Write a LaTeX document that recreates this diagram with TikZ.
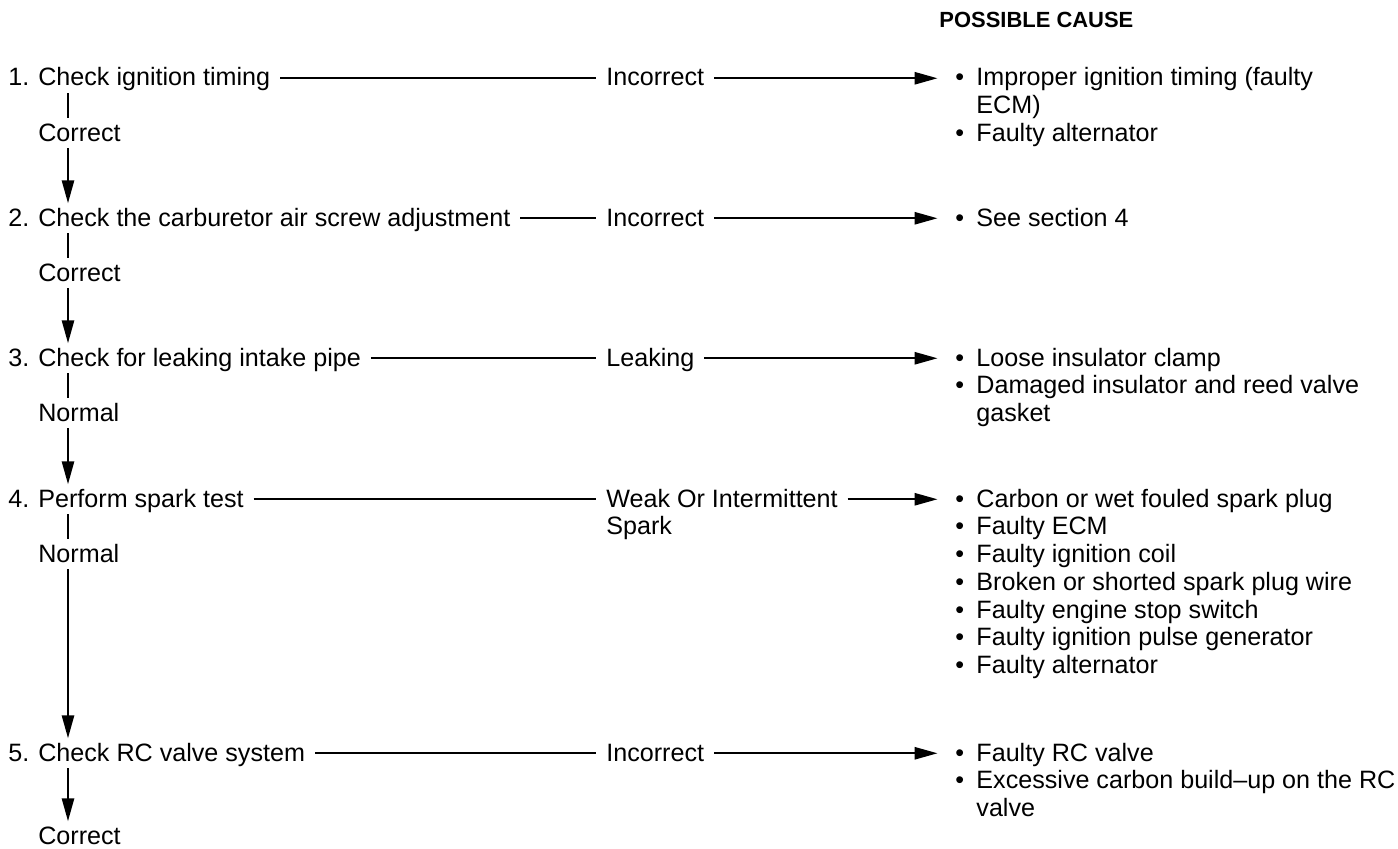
\documentclass[tikz,border=0pt]{standalone}
\usepackage{fontspec}
\setmainfont{Liberation Sans}
\usetikzlibrary{arrows.meta}
\newcommand{\bul}{\makebox[12pt][l]{\textbullet}}
\newcommand{\ind}{\hspace*{12pt}}
\newcommand{\rows}[1]{\begin{tabular}[t]{@{}l@{}}#1\end{tabular}}

\begin{document}
\begin{tikzpicture}[
    x=0.02cm,y=-0.02cm,
    txt/.style={font=\fontsize{14.3}{15.8}\selectfont,inner sep=0pt,anchor=base west,text height=10.3pt,text depth=1.5pt},
    multi/.style={font=\fontsize{14.3}{15.8}\selectfont,inner sep=0pt,anchor=base west},
    headline/.style={font=\fontsize{12.5}{14}\selectfont\bfseries,inner sep=0pt,anchor=base west},
    link/.style={line width=1pt,shorten <=5.5pt,shorten >=5.5pt},
    stemline/.style={line width=1pt,shorten <=2.5pt,shorten >=2.5pt},
    arrow/.style={-{Triangle[length=13pt,width=7pt]}},
    tocause/.style={link,arrow,shorten >=10pt},
]
\useasboundingbox (0,0) rectangle (1398,848);
\coordinate (stem) at (68,0);
\node[headline] (cause) at (939,28) {POSSIBLE CAUSE};

\node[txt] (n1) at (8,86) {1.};
\node[txt] (s1) at (38,86) {Check ignition timing};
\node[txt] (o1) at (606,86) {Incorrect};
\node[multi] (c1) at (955,86) {\rows{\bul Improper ignition timing (faulty\\\ind ECM)\\\bul Faulty alternator}};
\node[txt] (r1) at (38,141) {Correct};

\node[txt] (n2) at (8,226) {2.};
\node[txt] (s2) at (38,226) {Check the carburetor air screw adjustment};
\node[txt] (o2) at (606,226) {Incorrect};
\node[multi] (c2) at (955,226) {\rows{\bul See section 4}};
\node[txt] (r2) at (38,281) {Correct};

\node[txt] (n3) at (8,366) {3.};
\node[txt] (s3) at (38,366) {Check for leaking intake pipe};
\node[txt] (o3) at (606,366) {Leaking};
\node[multi] (c3) at (955,366) {\rows{\bul Loose insulator clamp\\\bul Damaged insulator and reed valve\\\ind gasket}};
\node[txt] (r3) at (38,421) {Normal};

\node[txt] (n4) at (8,507) {4.};
\node[txt] (s4) at (38,507) {Perform spark test};
\node[multi] (o4) at (606,507) {\rows{Weak Or Intermittent\\Spark}};
\node[multi] (c4) at (955,507) {\rows{\bul Carbon or wet fouled spark plug\\\bul Faulty ECM\\\bul Faulty ignition coil\\\bul Broken or shorted spark plug wire\\\bul Faulty engine stop switch\\\bul Faulty ignition pulse generator\\\bul Faulty alternator}};
\node[txt] (r4) at (38,562) {Normal};

\node[txt] (n5) at (8,761) {5.};
\node[txt] (s5) at (38,761) {Check RC valve system};
\node[txt] (o5) at (606,761) {Incorrect};
\node[multi] (c5) at (955,761) {\rows{\bul Faulty RC valve\\\bul Excessive carbon build--up on the RC\\\ind valve}};
\node[txt] (r5) at (38,844) {Correct};

\draw[link] (s1) -- (s1 -| o1.west);
\draw[tocause] (s1 -| o1.east) -- (s1 -| c1.west);
\draw[link] (s2) -- (s2 -| o2.west);
\draw[tocause] (s2 -| o2.east) -- (s2 -| c2.west);
\draw[link] (s3) -- (s3 -| o3.west);
\draw[tocause] (s3 -| o3.east) -- (s3 -| c3.west);
\draw[link] (s4) -- (s4 -| o4.west);
\draw[tocause] (s4 -| o4.east) -- (s4 -| c4.west);
\draw[link] (s5) -- (s5 -| o5.west);
\draw[tocause] (s5 -| o5.east) -- (s5 -| c5.west);

\draw[stemline] (s1.south -| stem) -- (r1.north -| stem);
\draw[stemline,arrow] (r1.south -| stem) -- (s2.north -| stem);
\draw[stemline] (s2.south -| stem) -- (r2.north -| stem);
\draw[stemline,arrow] (r2.south -| stem) -- (s3.north -| stem);
\draw[stemline] (s3.south -| stem) -- (r3.north -| stem);
\draw[stemline,arrow] (r3.south -| stem) -- (s4.north -| stem);
\draw[stemline] (s4.south -| stem) -- (r4.north -| stem);
\draw[stemline,arrow] (r4.south -| stem) -- (s5.north -| stem);
\draw[stemline,arrow] (s5.south -| stem) -- (r5.north -| stem);
\end{tikzpicture}
\end{document}
